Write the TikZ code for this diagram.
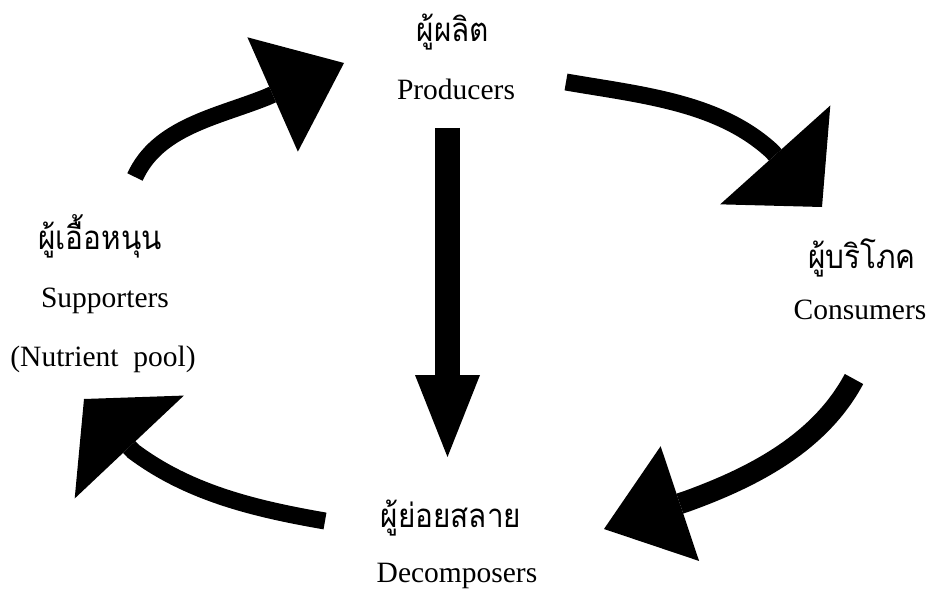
\documentclass[tikz,border=0pt]{standalone}
\usepackage{fontspec}
\setmainfont{Liberation Serif}
\newfontfamily\thaifnt[Script=Thai,FakeStretch=0.9]{Loma}
\usetikzlibrary{arrows.meta}

\tikzset{
  lbl/.style={anchor=base, inner sep=0pt, font=\fontsize{29.5}{34}\selectfont},
  thlbl/.style={anchor=base, inner sep=0pt, font=\thaifnt\fontsize{33}{38}\selectfont},
  flow/.style n args={3}{line width=#1, -{Triangle[length=#2, width=#3, line width=0pt]}}
}

\begin{document}
\begin{tikzpicture}[x=1pt, y=-1pt]
  \useasboundingbox (0,0) rectangle (929,591);

  % labels
  \node[thlbl] (prodth) at (453,42) {ผู้ผลิต};
  \node[lbl] (prod) at (456,100) {Producers};
  \node[thlbl] (consth) at (862,268) {ผู้บริโภค};
  \node[lbl] (cons) at (860,319) {Consumers};
  \node[thlbl] (decth) at (451,527) {ผู้ย่อยสลาย};
  \node[lbl] (dec) at (457,582) {Decomposers};
  \node[thlbl] (supth) at (100,249) {ผู้เอื้อหนุน};
  \node[lbl] (sup) at (105,307.5) {Supporters};
  \node[lbl] (pool) at (103,366.5) {(Nutrient\ \ pool)};

  % arrow ends
  \coordinate (sup-out) at (135,177);
  \coordinate (prod-in) at (344,63);
  \coordinate (prod-out) at (566,82);
  \coordinate (cons-in) at (822,207);
  \coordinate (cons-out) at (854,379);
  \coordinate (dec-in) at (604,529);
  \coordinate (dec-out) at (325,521);
  \coordinate (sup-in) at (84,399);
  \coordinate (prod-down) at (447.5,128);
  \coordinate (dec-top) at (447.5,457);

  % cycle
  \draw[flow={17pt}{78pt}{125pt}] (sup-out) .. controls (157.5,127) and (217,117) .. (266.5,97.2) -- (prod-in);
  \draw[flow={17pt}{70pt}{148pt}] (prod-out) .. controls (641,95) and (718.7,102) .. (772,151.3) -- (cons-in);
  \draw[flow={21pt}{80pt}{121pt}] (cons-out) .. controls (820,442.4) and (754.4,476.8) .. (686.7,501.3) -- (dec-in);
  \draw[flow={17pt}{66pt}{150pt}] (dec-out) .. controls (256,509) and (189.3,493.3) .. (133.3,451.3) -- (sup-in);
  \draw[flow={25pt}{82pt}{65pt}] (prod-down) -- (dec-top);
\end{tikzpicture}
\end{document}
